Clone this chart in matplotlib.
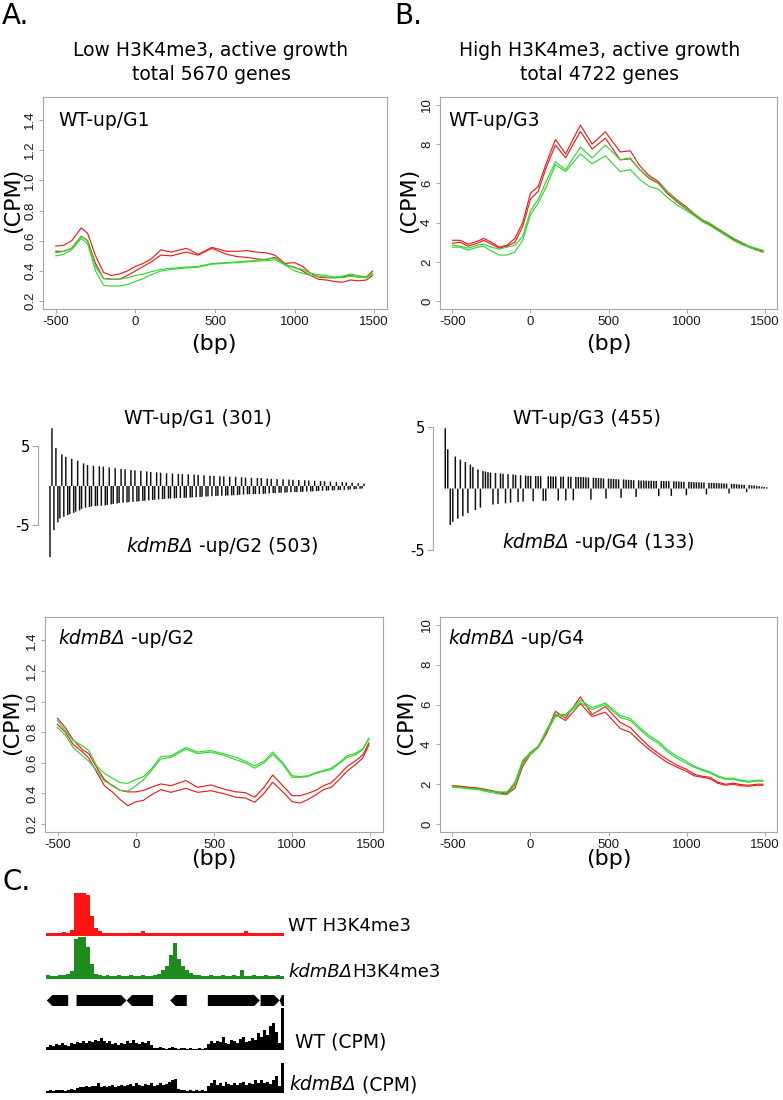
import matplotlib
matplotlib.use('Agg')
from matplotlib import pyplot as plt
from matplotlib.patches import Polygon
from matplotlib.offsetbox import TextArea, HPacker, AnnotationBbox

W, H = 783, 1100
RED = '#e8211d'
GREEN = '#33d633'
GREY = '#a6a6a6'
TXT = 'DejaVu Sans'
TICK = 'Liberation Sans'

# distance to TSS (bp) where the profiles were read
bp = [-500, -450, -400, -340, -300, -250, -200, -150, -100, -50, 0, 50, 100,
      160, 225, 320, 395, 480, 575, 640, 700, 760, 820, 875, 940, 1000, 1050,
      1100, 1150, 1200, 1250, 1300, 1350, 1400, 1450, 1490]

# A, top: WT-up/G1 (CPM)
g1_wt_a = [.565, .57, .60, .685, .65, .50, .39, .37, .38, .40, .43, .45, .48,
           .54, .525, .55, .51, .556, .53, .53, .535, .525, .52, .505, .45,
           .455, .43, .385, .36, .355, .355, .36, .37, .36, .36, .40]
g1_wt_b = [.53, .53, .55, .63, .60, .45, .35, .345, .345, .37, .40, .43, .46,
           .505, .50, .525, .505, .55, .51, .495, .49, .48, .475, .49, .44,
           .425, .40, .37, .345, .34, .33, .325, .34, .335, .34, .37]
g1_kd_a = [.52, .53, .55, .63, .60, .43, .35, .345, .345, .355, .37, .38, .395,
           .41, .418, .425, .43, .45, .455, .46, .465, .47, .478, .485, .445,
           .42, .41, .385, .375, .37, .36, .365, .38, .37, .36, .385]
g1_kd_b = [.50, .51, .54, .615, .58, .40, .305, .30, .30, .31, .33, .35, .375,
           .40, .41, .42, .425, .445, .452, .455, .46, .465, .468, .475, .44,
           .40, .385, .37, .365, .36, .355, .355, .365, .36, .355, .375]

# B, top: WT-up/G3 (CPM)
g3_wt_a = [3.1, 3.1, 2.9, 3.05, 3.2, 3.0, 2.75, 2.85, 3.2, 4.0, 5.5, 5.85, 7.0,
           8.24, 7.5, 8.97, 8.0, 8.63, 7.6, 7.66, 6.9, 6.4, 6.1, 5.6, 5.15,
           4.8, 4.45, 4.15, 3.95, 3.7, 3.45, 3.2, 3.0, 2.8, 2.65, 2.55]
g3_wt_b = [2.95, 3.0, 2.8, 2.95, 3.1, 2.9, 2.7, 2.8, 3.0, 3.8, 5.2, 5.6, 6.8,
           7.95, 7.3, 8.65, 7.75, 8.3, 7.2, 7.25, 6.7, 6.25, 6.0, 5.5, 5.05,
           4.7, 4.4, 4.1, 3.9, 3.65, 3.4, 3.15, 2.95, 2.75, 2.6, 2.5]
g3_kd_a = [2.85, 2.8, 2.7, 2.85, 2.9, 2.75, 2.65, 2.75, 2.85, 3.3, 4.6, 5.2,
           6.1, 7.1, 6.7, 7.85, 7.3, 7.95, 7.2, 7.3, 6.7, 6.3, 6.05, 5.6, 5.1,
           4.75, 4.45, 4.15, 3.95, 3.7, 3.45, 3.2, 3.0, 2.8, 2.68, 2.6]
g3_kd_b = [2.75, 2.75, 2.6, 2.75, 2.8, 2.55, 2.35, 2.35, 2.5, 3.1, 4.4, 5.0,
           5.8, 6.95, 6.6, 7.5, 7.0, 7.4, 6.6, 6.7, 6.2, 5.85, 5.7, 5.3, 4.9,
           4.6, 4.35, 4.05, 3.85, 3.6, 3.35, 3.1, 2.9, 2.75, 2.6, 2.55]

# A, bottom: kdmB-up/G2 (CPM)
g2_wt_a = [.89, .83, .75, .685, .66, .57, .49, .45, .42, .41, .41, .42, .44,
           .462, .45, .484, .44, .455, .425, .41, .405, .375, .44, .52, .45,
           .385, .385, .40, .42, .45, .47, .52, .575, .61, .65, .73]
g2_wt_b = [.85, .80, .72, .67, .63, .54, .45, .41, .36, .32, .345, .355, .39,
           .425, .407, .433, .407, .418, .395, .375, .37, .342, .40, .473, .41,
           .346, .337, .36, .39, .425, .44, .49, .545, .585, .63, .717]
g2_kd_a = [.876, .81, .745, .71, .68, .58, .53, .50, .47, .466, .49, .51, .56,
           .64, .645, .70, .67, .68, .655, .636, .61, .58, .61, .67, .60, .515,
           .51, .515, .535, .55, .565, .60, .647, .66, .69, .76]
g2_kd_b = [.83, .78, .70, .645, .61, .55, .48, .455, .42, .415, .45, .49, .55,
           .625, .635, .69, .66, .67, .645, .62, .60, .565, .60, .655, .59,
           .505, .505, .51, .53, .545, .555, .595, .635, .65, .685, .755]

# B, bottom: kdmB-up/G4 (CPM)
g4_wt_a = [1.92, 1.9, 1.85, 1.81, 1.76, 1.68, 1.6, 1.55, 2.0, 3.1, 3.6, 3.9,
           4.6, 5.66, 5.32, 6.39, 5.5, 5.9, 5.1, 4.85, 4.35, 3.9, 3.55, 3.25,
           2.95, 2.75, 2.5, 2.4, 2.35, 2.1, 2.0, 2.05, 1.98, 1.95, 2.0, 2.0]
g4_wt_b = [1.9, 1.88, 1.83, 1.79, 1.73, 1.65, 1.57, 1.5, 1.8, 2.9, 3.5, 3.85,
           4.5, 5.5, 5.2, 6.05, 5.4, 5.62, 4.8, 4.6, 4.15, 3.75, 3.4, 3.1,
           2.85, 2.65, 2.42, 2.35, 2.28, 2.05, 1.95, 2.0, 1.92, 1.9, 1.95, 1.95]
g4_kd_a = [1.88, 1.85, 1.8, 1.77, 1.72, 1.65, 1.6, 1.62, 2.1, 3.2, 3.6, 3.9,
           4.7, 5.5, 5.5, 6.22, 5.85, 6.08, 5.45, 5.3, 4.85, 4.45, 4.15, 3.75,
           3.4, 3.15, 2.9, 2.75, 2.62, 2.42, 2.3, 2.3, 2.2, 2.15, 2.2, 2.2]
g4_kd_b = [1.85, 1.82, 1.77, 1.73, 1.66, 1.58, 1.5, 1.47, 1.95, 3.0, 3.5, 3.85,
           4.6, 5.4, 5.45, 6.1, 5.75, 6.0, 5.35, 5.2, 4.75, 4.35, 4.05, 3.65,
           3.3, 3.05, 2.85, 2.7, 2.57, 2.37, 2.25, 2.25, 2.15, 2.1, 2.15, 2.15]

# log2 fold changes, low H3K4me3 genes (sampled along the ranking)
lfc_up_g1 = [7.3, 4.8, 4.0, 3.7, 3.45, 3.2, 2.85, 2.65, 2.55, 2.5, 2.45, 2.35,
             2.25, 2.15, 2.1, 2.02, 1.98, 1.92, 1.85, 1.78, 1.72, 1.68, 1.6,
             1.57, 1.53, 1.5, 1.48, 1.44, 1.4, 1.35, 1.3, 1.27, 1.24, 1.22,
             1.19, 1.16, 1.1, 1.05, 1.03, 1.01, 1.0, .95, .9, .87, .84, .81,
             .78, .75, .72, .69, .66, .62, .59, .56, .53, .5, .46, .42, .36, .3]
lfc_down_g2 = [9.0, 5.6, 4.6, 4.1, 3.9, 3.7, 3.55, 3.4, 3.25, 3.1, 2.9, 2.75,
               2.65, 2.6, 2.55, 2.52, 2.5, 2.45, 2.4, 2.33, 2.27, 2.22, 2.16,
               2.12, 2.08, 2.04, 2.0, 1.97, 1.94, 1.9, 1.86, 1.82, 1.78, 1.74,
               1.71, 1.68, 1.64, 1.6, 1.58, 1.56, 1.54, 1.52, 1.5, 1.49, 1.47,
               1.45, 1.42, 1.4, 1.37, 1.34, 1.31, 1.29, 1.27, 1.25, 1.23, 1.22,
               1.2, 1.19, 1.17, 1.16, 1.12, 1.08, 1.05, 1.04, 1.03, 1.02, 1.01,
               1.0, .98, .95, .9, .89, .87, .85, .84, .82, .8, .78, .77, .75,
               .73, .71, .69, .68, .66, .63, .61, .59, .57, .56, .54, .52, .51,
               .5, .46, .44, .41, .38, .35, .32]

# log2 fold changes, high H3K4me3 genes
lfc_up_g3 = [4.9, 3.2, 2.6, 2.35, 2.15, 1.95, 1.75, 1.55, 1.42, 1.38, 1.33,
             1.3, 1.27, 1.24, 1.2, 1.17, 1.14, 1.11, 1.08, 1.05, 1.04, 1.03,
             1.02, 1.01, 1.0, .99, .99, .98, .98, .97, .97, .96, .96, .95, .95,
             .94, .93, .92, .9, .89, .87, .85, .84, .82, .81, .8, .78, .77, .75,
             .74, .72, .71, .7, .68, .67, .65, .65, .64, .63, .63, .62, .62,
             .61, .61, .6, .6, .59, .58, .57, .56, .55, .54, .53, .52, .51, .5,
             .49, .48, .47, .46, .45, .44, .43, .42, .41, .4, .39, .37, .35,
             .33, .31, .3, .28, .26, .25, .22, .19, .16, .13, .1]
lfc_down_g4 = [2.97, 2.7, 2.45, 2.25, 2.0, 1.75, 1.55, 1.3, 1.25, 1.2, 1.15,
               1.1, 1.06, 1.03, 1.0, 1.0, .98, .97, .96, .9, .82, .75, .68,
               .62, .6, .55, .48, .4, .3]

# C: browser tracks (relative height per bin)
chip_wt = [.05, .04, .05, .04, .06, .05, .12, 1.0, 1.0, 1.0, .95, .45, .15,
           .08, .05, .04, .05, .04, .04, .05, .04, .04, .05, .04, .08, .04,
           .04, .05, .04, .04, .05, .04, .04, .05, .04, .04, .04, .05, .04,
           .04, .04, .05, .04, .04, .05, .04, .04, .04, .05, .04, .08, .04,
           .04, .05, .04, .04, .05, .04, .04, .04]
chip_kd = [.06, .05, .05, .06, .07, .10, .16, .95, 1.0, 1.0, .75, .35, .10,
           .06, .05, .06, .05, .05, .06, .05, .05, .06, .05, .05, .06, .05,
           .05, .06, .10, .18, .30, .55, .86, .45, .30, .20, .12, .07, .06,
           .05, .05, .06, .05, .05, .06, .05, .05, .06, .05, .20, .05, .05,
           .06, .05, .05, .06, .05, .05, .06, .05]
cpm_wt = [.05, .10, .08, .12, .09, .13, .10, .08, .14, .12, .16, .15, .18, .14,
          .20, .17, .22, .18, .26, .20, .15, .18, .12, .14, .10, .15, .12, .18,
          .13, .22, .15, .12, .17, .14, .20, .10, .02, .03, .04, .02, .0, .03,
          .04, .01, .0, .02, .03, .0, .01, .0, .0, .02, .0, .01, .12, .18, .14,
          .20, .16, .30, .15, .12, .22, .18, .14, .24, .28, .16, .20, .26, .22,
          .38, .30, .45, .35, .55, .62, .40, .15, 1.0]
cpm_kd = [.04, .06, .05, .08, .06, .09, .05, .07, .10, .06, .15, .18, .16, .20,
          .18, .22, .20, .32, .18, .22, .16, .20, .24, .18, .22, .26, .20, .24,
          .28, .22, .32, .25, .20, .28, .24, .30, .22, .26, .30, .24, .28, .36,
          .40, .45, .10, .06, .08, .05, .07, .04, .06, .05, .07, .05, .22, .30,
          .42, .25, .30, .22, .35, .28, .24, .32, .26, .30, .36, .25, .30, .28,
          .40, .32, .42, .30, .35, .28, .40, .55, .20, 1.0]
gene_start = [0.2, 7.7, 20.3, 31.3, 40.8, 54.1, 58.9]
gene_end = [5.6, 20.3, 27.0, 35.5, 53.9, 58.9, 60.0]
gene_strand = ['-', '+', '-', '-', '+', '+', '-']

fig = plt.figure(figsize=(W / 100, H / 100), dpi=100)


def px_axes(x0, y0, x1, y1):
    return fig.add_axes([x0 / W, 1 - y1 / H, (x1 - x0) / W, (y1 - y0) / H])


def profile(box, series, ylim, yticks, ylabels):
    ax = px_axes(*box)
    for vals, col in series:
        ax.plot(bp, vals, color=col, lw=0.85, solid_joinstyle='round')
    ax.set_xlim(-580, 1580)
    ax.set_ylim(*ylim)
    ax.set_xticks([-500, 0, 500, 1000, 1500])
    ax.set_xticklabels(['-500', '0', '500', '1000', '1500'])
    ax.set_yticks(yticks)
    ax.set_yticklabels(ylabels, rotation=90, va='center')
    for sp in ax.spines.values():
        sp.set_color(GREY)
        sp.set_linewidth(0.8)
    ax.tick_params(length=3, width=0.7, color=GREY, labelcolor='#1a1a1a',
                   labelsize=9.5, pad=2)
    for lab in ax.get_xticklabels() + ax.get_yticklabels():
        lab.set_family(TICK)
    return ax


def rank_panel(box, up, down, ylim, spine_px, width):
    vals = sorted(up + [-d for d in down], key=lambda v: -abs(v))
    ax = px_axes(*box)
    bars = ax.bar(range(len(vals)), vals, width=width, color='#111111',
                  linewidth=0)
    for b in bars:
        b.set_snap(False)
    ax.set_xlim(-0.5, len(vals) - 0.5)
    ax.set_ylim(*ylim)
    for s in ('top', 'right', 'bottom'):
        ax.spines[s].set_visible(False)
    ax.spines['left'].set_position(('outward', spine_px * 0.72))
    ax.spines['left'].set_bounds(-5, 5)
    ax.spines['left'].set_color(GREY)
    ax.set_xticks([])
    ax.set_yticks([5, -5])
    ax.set_yticklabels(['5', '-5'], family=TXT)
    ax.tick_params(axis='y', length=4, color=GREY, labelsize=10.5, pad=2)
    ax.patch.set_visible(False)


def track(box, vals, color, base):
    ax = px_axes(*box)
    ax.bar(range(len(vals)), vals, width=1.0, align='edge', color=color,
           linewidth=0)
    ax.axhline(0, color=base, lw=0.8)
    ax.set_xlim(0, len(vals))
    ax.set_ylim(-0.03, 1)
    ax.axis('off')


# line profiles
profile((43, 97, 387, 309),
        [(g1_wt_a, RED), (g1_wt_b, RED), (g1_kd_a, GREEN), (g1_kd_b, GREEN)],
        (0.148, 1.552), [0.2, 0.4, 0.6, 0.8, 1.0, 1.2, 1.4],
        ['0.2', '0.4', '0.6', '0.8', '1.0', '1.2', '1.4'])
profile((440, 97, 777, 309),
        [(g3_wt_a, RED), (g3_wt_b, RED), (g3_kd_a, GREEN), (g3_kd_b, GREEN)],
        (-0.4, 10.4), [0, 2, 4, 6, 8, 10], ['0', '2', '4', '6', '8', '10'])
profile((45, 617, 383, 832),
        [(g2_wt_a, RED), (g2_wt_b, RED), (g2_kd_a, GREEN), (g2_kd_b, GREEN)],
        (0.148, 1.552), [0.2, 0.4, 0.6, 0.8, 1.0, 1.2, 1.4],
        ['0.2', '0.4', '0.6', '0.8', '1.0', '1.2', '1.4'])
profile((440, 617, 777, 832),
        [(g4_wt_a, RED), (g4_wt_b, RED), (g4_kd_a, GREEN), (g4_kd_b, GREEN)],
        (-0.4, 10.4), [0, 2, 4, 6, 8, 10], ['0', '2', '4', '6', '8', '10'])

# ranked fold changes
rank_panel((49, 420, 365, 560), lfc_up_g1, lfc_down_g2, (-9.37, 8.35), 11,
           0.75)
rank_panel((444, 415, 768, 560), lfc_up_g3, lfc_down_g4, (-5.81, 5.98), 11,
           0.6)

# browser tracks
track((46, 893, 284, 936), chip_wt, '#ff1414', '#ff1414')
track((46, 937, 284, 979), chip_kd, '#1e8c1e', '#1e8c1e')
track((46, 1008, 284, 1050), cpm_wt, 'black', 'black')
track((46, 1063, 284, 1093), cpm_kd, 'black', 'black')
gax = px_axes(46, 995, 284, 1006)
for s, e, strand in zip(gene_start, gene_end, gene_strand):
    h = min(1.4, (e - s) / 2)
    if strand == '+':
        pts = [(s, 0), (e - h, 0), (e, 0.5), (e - h, 1), (s, 1)]
    else:
        pts = [(s + h, 0), (e, 0), (e, 1), (s + h, 1), (s, 0.5)]
    gax.add_patch(Polygon(pts, closed=True, color='black', lw=0))
gax.set_xlim(0, 60)
gax.set_ylim(0, 1)
gax.axis('off')

# all free text on a transparent overlay in pixel units
bg = fig.add_axes([0, 0, 1, 1], zorder=10)
bg.set_xlim(0, W)
bg.set_ylim(H, 0)
bg.axis('off')


def say(x, y, s, size=13.5, ha='center', **kw):
    bg.text(x, y, s, fontsize=size, ha=ha, va='center', family=TXT, **kw)


def say_mixed(x, y, parts, size=13.5, ha='left'):
    boxes = [TextArea(s, textprops=dict(fontsize=size, style=st, family=TXT))
             for s, st in parts]
    pack = HPacker(children=boxes, align='baseline', pad=0, sep=0)
    ab = AnnotationBbox(pack, (x, y), xycoords='data', frameon=False, pad=0,
                        box_alignment=(0 if ha == 'left' else 0.5, 0.5))
    bg.add_artist(ab)


say(2, 16, 'A.', 20, ha='left')
say(394, 16, 'B.', 20, ha='left')
say(2, 882, 'C.', 20, ha='left')

say(211, 51, 'Low H3K4me3, active growth')
say(211, 75, 'total 5670 genes')
say(600, 51, 'High H3K4me3, active growth')
say(600, 75, 'total 4722 genes')

say(58, 120, 'WT-up/G1', ha='left')
say(448, 120, 'WT-up/G3', ha='left')
say_mixed(58, 638, [('kdmBΔ', 'italic'), (' -up/G2', 'normal')])
say_mixed(448, 638, [('kdmBΔ', 'italic'), (' -up/G4', 'normal')])

for x, y in [(13, 200), (409, 200), (12, 722), (406, 722)]:
    say(x, y, '(CPM)', 16, rotation=90)
for x, y in [(214, 344), (609, 344), (214, 859), (609, 859)]:
    say(x, y, '(bp)', 16)

say(198, 418, 'WT-up/G1 (301)')
say_mixed(222, 547, [('kdmBΔ', 'italic'), (' -up/G2 (503)', 'normal')],
          ha='center')
say(587, 418, 'WT-up/G3 (455)')
say_mixed(598, 543, [('kdmBΔ', 'italic'), (' -up/G4 (133)', 'normal')],
          ha='center')

say(288, 926, 'WT H3K4me3', 13, ha='left')
say_mixed(288, 972, [('kdmBΔ', 'italic'), ('H3K4me3', 'normal')], 13)
say(295, 1042, 'WT (CPM)', 13.5, ha='left')
say_mixed(289, 1085, [('kdmBΔ', 'italic'), (' (CPM)', 'normal')], 13.5)

fig.savefig('out.png', dpi=100)
